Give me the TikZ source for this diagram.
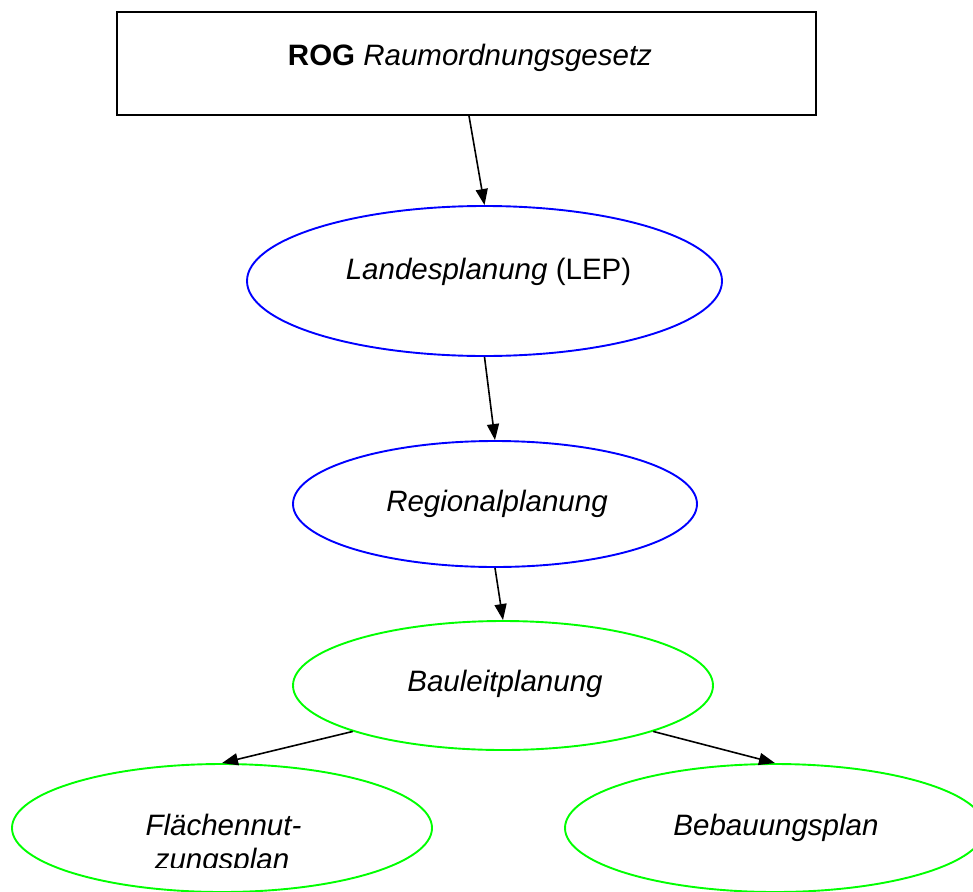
\documentclass[tikz,border=0pt]{standalone}
\usepackage{fontspec}
\setmainfont{Liberation Sans}
\usetikzlibrary{shapes.geometric,arrows.meta}
\definecolor{pureblue}{RGB}{0,0,255}
\definecolor{puregreen}{RGB}{0,255,0}
\begin{document}
\begin{tikzpicture}[x=1pt,y=-1pt,
  lbl/.style={anchor=base,inner sep=0pt,font=\fontsize{29.5}{34}\selectfont},
  box/.style={draw=black,line width=2pt,inner sep=0pt},
  oval/.style={ellipse,line width=1.9pt,inner sep=0pt},
  blueoval/.style={oval,draw=pureblue},
  greenoval/.style={oval,draw=puregreen},
  link/.style={line width=1.6pt,-{Triangle[length=16pt,width=12pt]}}]
  \useasboundingbox (0,0) rectangle (973,891);
  \clip (0,0) rectangle (973,891);

  % law at the top
  \node[box,minimum width=699pt,minimum height=103pt] (rog) at (466.5,63.5) {};
  \node[lbl] (rogtxt) at (470,66) {\textbf{ROG} \textit{Raumordnungsgesetz}};

  % planning levels
  \node[blueoval,minimum width=475pt,minimum height=150pt] (lep) at (484.5,281) {};
  \node[lbl] (leptxt) at (488.5,279) {\textit{Landesplanung} (LEP)};

  \node[blueoval,minimum width=404pt,minimum height=126pt] (reg) at (495,504) {};
  \node[lbl] (regtxt) at (497,511) {\textit{Regionalplanung}};

  \node[greenoval,minimum width=420pt,minimum height=129pt] (blp) at (503,685.5) {};
  \node[lbl] (blptxt) at (505,691) {\textit{Bauleitplanung}};

  \node[greenoval,minimum width=420pt,minimum height=128pt] (fnp) at (222,828) {};
  \node[lbl] (fnptxt) at (223.5,835) {\textit{Flächennut-}};
  \begin{scope}
    \clip (0,0) rectangle (973,867.5);
    \node[lbl] (fnptxtb) at (222,869) {\textit{zungsplan}};
  \end{scope}

  \node[greenoval,minimum width=420pt,minimum height=128pt] (bp) at (775,828) {};
  \node[lbl] (bptxt) at (776,835) {\textit{Bebauungsplan}};

  % hierarchy arrows
  \draw[link] ([xshift=2.5pt]rog.south) -- (lep.north);
  \draw[link] (lep.south) -- (reg.north);
  \draw[link] (reg.south) -- (blp.north);
  \draw[link] (blp.197) -- (fnp.north);
  \draw[link] (blp.343) -- (bp.north);
\end{tikzpicture}
\end{document}
